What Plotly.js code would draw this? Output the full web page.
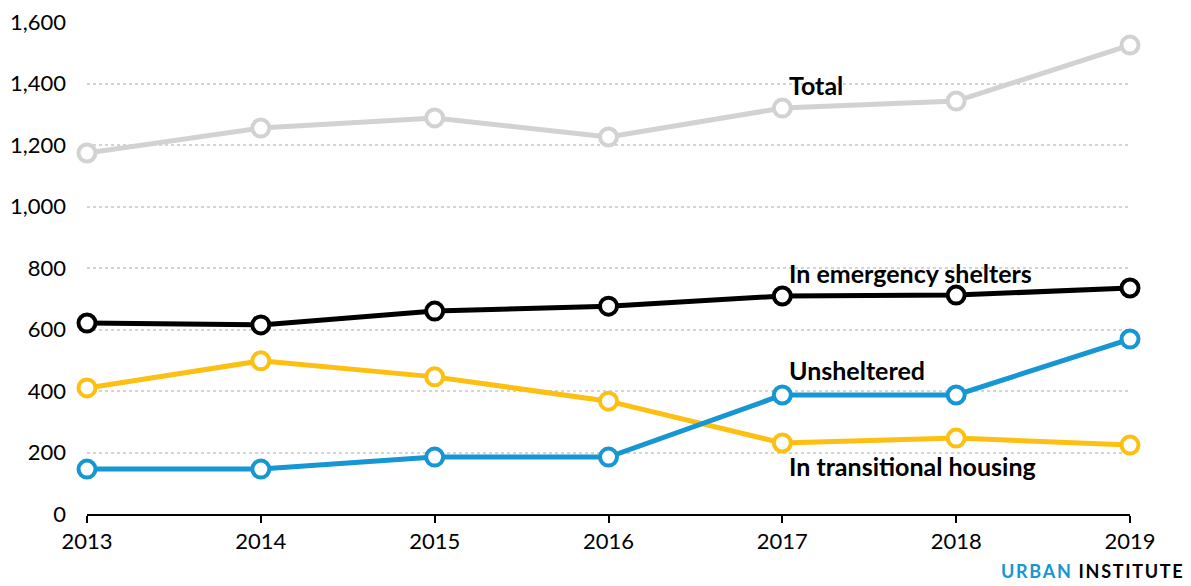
<!DOCTYPE html>
<html>
<head>
<meta charset="utf-8">
<script src="https://cdn.plot.ly/plotly-3.0.1.min.js"></script>
<style>
  html, body { margin: 0; padding: 0; background: #fff; }
  #chart { width: 1191px; height: 586px; }
</style>
</head>
<body>
<div id="chart"></div>
<script>
// years on the x axis
const years = [2013, 2014, 2015, 2016, 2017, 2018, 2019];

// series values
const total = [1174, 1255, 1288, 1226, 1320, 1343, 1525];
const emergency = [621, 615, 660, 676, 709, 712, 735];
const transitional = [410, 498, 446, 367, 231, 247, 224];
const unsheltered = [146, 146, 185, 185, 387, 387, 569];

const seriesNames = ["Total", "In emergency shelters", "In transitional housing", "Unsheltered"];
const seriesColors = ["#d2d2d2", "#000000", "#fdbf11", "#1696d2"];
const seriesValues = [total, emergency, transitional, unsheltered];

// label positions (data units) for the direct labels
const labelY = [1395, 784, 156, 468];

const data = seriesValues.map((vals, i) => ({
  x: years,
  y: vals,
  name: seriesNames[i],
  mode: "lines+markers",
  type: "scatter",
  cliponaxis: false,
  line: { color: seriesColors[i], width: 5 },
  marker: {
    size: 17,
    color: "#ffffff",
    line: { color: seriesColors[i], width: 4 }
  },
  hoverinfo: "x+y+name"
}));

const annotations = seriesNames.map((name, i) => ({
  x: 2017,
  y: labelY[i],
  xref: "x",
  yref: "y",
  text: "<b>" + name + "</b>",
  showarrow: false,
  xanchor: "left",
  yanchor: "middle",
  xshift: 5,
  font: { family: "Lato, sans-serif", size: 25, color: "#000000" }
}));

// logo text, bottom right
annotations.push({
  x: 1,
  y: 0,
  xref: "paper",
  yref: "paper",
  xanchor: "right",
  yanchor: "bottom",
  xshift: 56,
  yshift: -70,
  showarrow: false,
  text: "<b><span style='color:#1696d2;letter-spacing:1.7px'>URBAN</span><span style='letter-spacing:1.7px'> INSTITUTE</span></b>",
  font: { family: "Lato, sans-serif", size: 18, color: "#000000" }
});

const layout = {
  width: 1191,
  height: 586,
  margin: { l: 87, r: 61, t: 22, b: 72 },
  paper_bgcolor: "#ffffff",
  plot_bgcolor: "#ffffff",
  showlegend: false,
  font: { family: "Lato, sans-serif", size: 22, color: "#000000" },
  xaxis: {
    range: [2013, 2019],
    tickvals: years,
    ticktext: years.map(String),
    showgrid: false,
    zeroline: false,
    showline: true,
    linecolor: "#000000",
    linewidth: 2,
    ticks: "outside",
    ticklen: 7,
    tickwidth: 2,
    tickcolor: "#000000",
    tickfont: { size: 22 }
  },
  yaxis: {
    range: [0, 1600],
    tickvals: [0, 200, 400, 600, 800, 1000, 1200, 1400, 1600],
    tickformat: ",",
    showgrid: true,
    gridcolor: "#d4d4d4",
    griddash: "dot",
    gridwidth: 2,
    zeroline: false,
    showline: false,
    ticks: "",
    ticklabelstandoff: 20,
    tickfont: { size: 22 }
  },
  annotations: annotations
};

Plotly.newPlot("chart", data, layout, { displayModeBar: false, staticPlot: true });
</script>
</body>
</html>
